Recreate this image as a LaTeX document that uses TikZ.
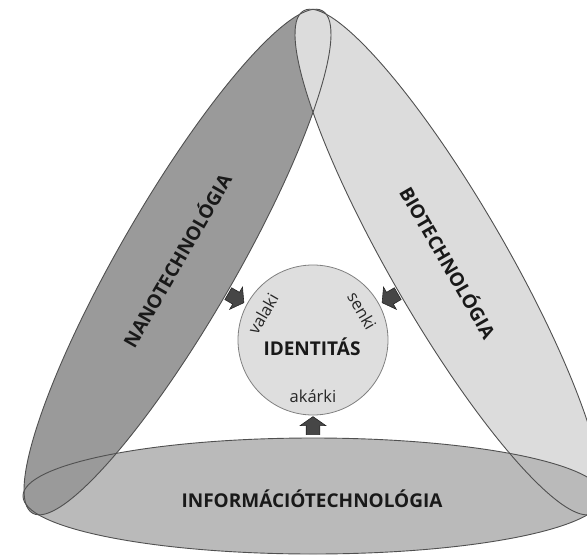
\documentclass[tikz,border=0pt]{standalone}
\usepackage{fontspec}
\setmainfont{Open Sans}
\usetikzlibrary{shapes.arrows}
\definecolor{nanofill}{HTML}{9A9A9A}
\definecolor{biofill}{HTML}{DCDCDC}
\definecolor{infofill}{HTML}{BABABA}
\definecolor{idfill}{HTML}{DEDEDE}
\definecolor{edgegray}{HTML}{505050}
\definecolor{arrowfill}{HTML}{464646}
\begin{document}
\begin{tikzpicture}[x=1pt,y=-1pt,
  band/.style={x radius=290pt, y radius=58pt},
  outline/.style={draw=edgegray, line width=0.9pt},
  pointer/.style={single arrow, draw=black!85, fill=arrowfill, line width=0.6pt,
    minimum height=18pt, minimum width=25pt, single arrow head extend=6pt,
    single arrow tip angle=110, inner xsep=0pt, inner ysep=6.5pt},
  bandlabel/.style={font=\fontsize{19}{19}\selectfont\bfseries, text=black!90},
  smalllabel/.style={font=\fontsize{16.5}{16.5}\selectfont, text=black!85}]
\useasboundingbox (0,0) rectangle (587,560);
\clip (0,0) rectangle (587,560);

% centres of the three bands and of the circle
\coordinate (nanoC) at (177.5,262);
\coordinate (bioC) at (448.5,262);
\coordinate (infoC) at (313,496);
\coordinate (idC) at (313,340);

% fills: bio lies over nano, info over bio, nano over info
\begin{scope}[shift={(nanoC)}, rotate=60]
  \fill[nanofill] (0,0) ellipse[band];
\end{scope}
\begin{scope}[shift={(bioC)}, rotate=-60]
  \fill[biofill] (0,0) ellipse[band];
\end{scope}
\fill[infofill] (infoC) ellipse[band];
\begin{scope}
  \clip (infoC) ellipse[band];
  \begin{scope}[shift={(nanoC)}, rotate=60]
    \fill[nanofill] (0,0) ellipse[band];
  \end{scope}
\end{scope}

% outlines on top
\begin{scope}[shift={(nanoC)}, rotate=60]
  \draw[outline] (0,0) ellipse[band];
\end{scope}
\begin{scope}[shift={(bioC)}, rotate=-60]
  \draw[outline] (0,0) ellipse[band];
\end{scope}
\draw[outline] (infoC) ellipse[band];

% central circle
\node[circle, minimum size=150pt, inner sep=0pt, fill=idfill, draw=black!50,
  line width=0.8pt] (identity) at (idC) {};

% band labels
\node[bandlabel, rotate=60] (nanoLabel) at (176,260) {NANOTECHNOLÓGIA};
\node[bandlabel, rotate=-60] (bioLabel) at (449,262) {BIOTECHNOLÓGIA};
\node[bandlabel, anchor=base] (infoLabel) at (312,507) {INFORMÁCIÓTECHNOLÓGIA};

% circle labels
\node[bandlabel, anchor=base] (idLabel) at (312,355) {IDENTITÁS};
\node[smalllabel, rotate=60, inner sep=1pt] (valaki) at (263,314) {valaki};
\node[smalllabel, rotate=-60, inner sep=1pt] (senki) at (362,311) {senki};
\node[smalllabel, anchor=base] (akarki) at (313,402) {akárki};

% arrows towards the circle
\node[pointer, rotate=-30] (nanoArrow) at (234,297) {};
\node[pointer, rotate=-150] (bioArrow) at (392,297) {};
\node[pointer, rotate=90] (infoArrow) at (313,428) {};
\end{tikzpicture}
\end{document}
